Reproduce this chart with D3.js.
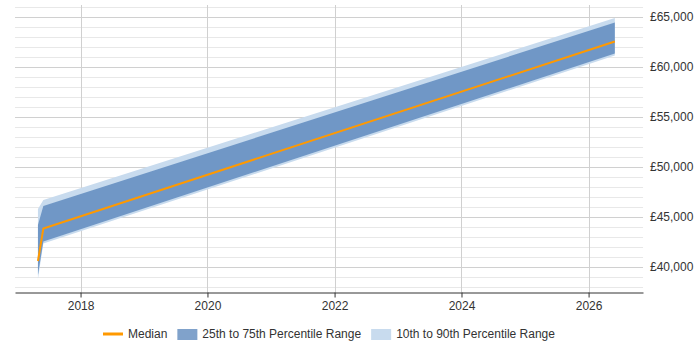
<!DOCTYPE html>
<html>
<head>
<meta charset="utf-8">
<script src="https://cdn.jsdelivr.net/npm/d3@7"></script>
<style>
  body { margin: 0; background: #fff; }
  text { font-family: "Liberation Sans", Arial, sans-serif; font-size: 12px; fill: #333; }
</style>
</head>
<body>
<div id="chart"></div>
<script>
// data
var dates = ["2017-05-01", "2017-06-01", "2026-06-01"];
var median = [40600, 43850, 62550];
var p25 = [39200, 42550, 61350];
var p75 = [44200, 46100, 64450];
var p10 = [38800, 42350, 61150];
var p90 = [45800, 46700, 64900];
var yTicks = [40000, 45000, 50000, 55000, 60000, 65000];
var xTicks = ["2018", "2020", "2022", "2024", "2026"];
var legendLabels = ["Median", "25th to 75th Percentile Range", "10th to 90th Percentile Range"];

var width = 700, height = 350;
var plot = {left: 15, right: 643, top: 5, bottom: 292};

var parse = d3.timeParse("%Y-%m-%d");
var rows = dates.map(function (d, i) {
    return {date: parse(d), median: median[i], p25: p25[i], p75: p75[i], p10: p10[i], p90: p90[i]};
});

var svg = d3.select("#chart").append("svg")
    .attr("width", width)
    .attr("height", height);

var x = d3.scaleTime()
    .domain([parse("2016-12-20"), parse("2026-11-10")])
    .range([plot.left, plot.right]);

var y = d3.scaleLinear()
    .domain([37500, 66200])
    .range([plot.bottom, plot.top]);

// horizontal grid, minor every 1,000 and major every 5,000
var minor = d3.range(38000, 66001, 1000);
svg.append("g")
    .selectAll("line")
    .data(minor)
    .enter().append("line")
    .attr("x1", plot.left)
    .attr("x2", plot.right)
    .attr("y1", function (d) { return Math.round(y(d)) + 0.5; })
    .attr("y2", function (d) { return Math.round(y(d)) + 0.5; })
    .style("stroke", function (d) { return d % 5000 === 0 ? "#d0d0d0" : "#e8e8e8"; })
    .style("stroke-width", 1);

// vertical grid
svg.append("g")
    .selectAll("line")
    .data(xTicks)
    .enter().append("line")
    .attr("x1", function (d) { return Math.round(x(parse(d + "-01-01"))) + 0.5; })
    .attr("x2", function (d) { return Math.round(x(parse(d + "-01-01"))) + 0.5; })
    .attr("y1", plot.top)
    .attr("y2", plot.bottom)
    .style("stroke", "#d0d0d0");

// bands
var outer = d3.area()
    .x(function (d) { return x(d.date); })
    .y0(function (d) { return y(d.p10); })
    .y1(function (d) { return y(d.p90); });

var inner = d3.area()
    .x(function (d) { return x(d.date); })
    .y0(function (d) { return y(d.p25); })
    .y1(function (d) { return y(d.p75); });

svg.append("path")
    .datum(rows)
    .attr("d", outer)
    .style("fill", "#c8dbee");

svg.append("path")
    .datum(rows)
    .attr("d", inner)
    .style("fill", "#4a7ab5")
    .style("opacity", 0.7);

svg.append("path")
    .datum(rows)
    .attr("d", d3.line()
        .x(function (d) { return x(d.date); })
        .y(function (d) { return y(d.median); }))
    .style("fill", "none")
    .style("stroke", "#ff9900")
    .style("stroke-width", 2);

// x axis
var xAxis = svg.append("g")
    .attr("transform", "translate(0," + (plot.bottom + 0.5) + ")")
    .call(d3.axisBottom(x)
        .tickValues(xTicks.map(function (d) { return parse(d + "-01-01"); }))
        .tickFormat(d3.timeFormat("%Y"))
        .tickSize(5)
        .tickSizeOuter(0));
xAxis.select(".domain").style("stroke", "#333");
xAxis.selectAll(".tick line").style("stroke", "#333");
xAxis.selectAll("text")
    .attr("dy", "0.71em")
    .attr("y", 9)
    .style("font-size", "12px")
    .style("fill", "#333")
    .style("font-family", "Liberation Sans, Arial, sans-serif");

// y axis labels on the right
var yAxis = svg.append("g")
    .attr("transform", "translate(" + (plot.right + 7) + ",0)")
    .call(d3.axisRight(y)
        .tickValues(yTicks)
        .tickFormat(function (d) { return "£" + d3.format(",")(d); })
        .tickSize(0));
yAxis.select(".domain").remove();
yAxis.selectAll("text")
    .attr("x", 0)
    .style("font-size", "12px")
    .style("fill", "#333")
    .style("font-family", "Liberation Sans, Arial, sans-serif");

// legend
var legend = svg.append("g").attr("transform", "translate(0,334)");
var lx = 103;
legendLabels.forEach(function (label, i) {
    var g = legend.append("g").attr("transform", "translate(" + lx + ",0)");
    if (i === 0) {
        g.append("line")
            .attr("x1", 0).attr("x2", 20)
            .attr("y1", 0).attr("y2", 0)
            .style("stroke", "#ff9900")
            .style("stroke-width", 3);
    } else {
        g.append("rect")
            .attr("x", 0).attr("y", -5)
            .attr("width", 20).attr("height", 11)
            .style("fill", i === 1 ? "#4a7ab5" : "#c8dbee")
            .style("opacity", i === 1 ? 0.7 : 1);
    }
    var t = g.append("text")
        .attr("x", 25)
        .attr("y", 4)
        .text(label);
    lx += 25 + t.node().getComputedTextLength() + 10;
});
</script>
</body>
</html>
